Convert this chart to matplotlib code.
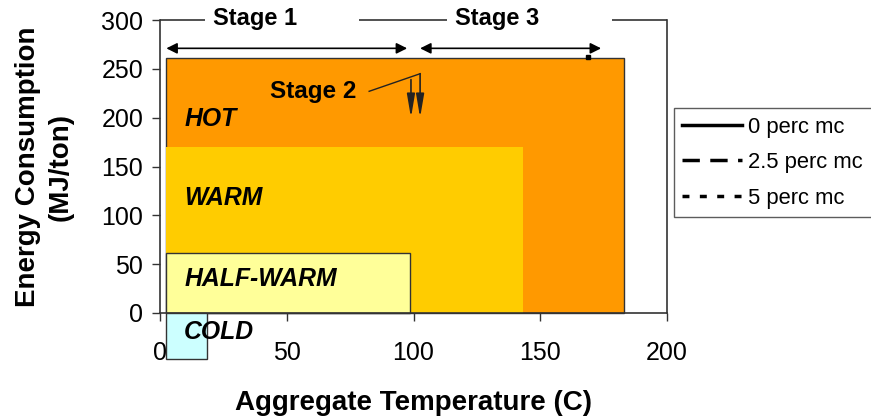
import matplotlib.pyplot as plt
from matplotlib.patches import Rectangle
from matplotlib.lines import Line2D

plt.rcParams['font.family'] = ['Liberation Sans', 'DejaVu Sans']

# temperature zones: name, x range (C), y range (MJ/ton), colour
zones = ['HOT', 'WARM', 'HALF-WARM', 'COLD']
zone_x0 = [2.5, 2.5, 2.5, 2.5]
zone_x1 = [183, 143, 98.5, 18.5]
zone_y0 = [0, 0, 0, -47]
zone_y1 = [261, 170, 61, 0]
zone_colors = ['#FF9900', '#FFCC00', '#FFFF99', '#CCFFFF']
zone_edges = ['#333333', 'none', '#333333', '#333333']
label_y = [199, 118, 35, -19]

# stage spans
stage1 = (2.5, 97.5)
stage3 = (102.6, 174)
stage_arrow_y = 271
stage2_tails = [(99, 239), (102.6, 245)]
stage2_head_y = 200

# moisture content series (only the end point is visible above the zones)
mc_labels = ['0 perc mc', '2.5 perc mc', '5 perc mc']
mc_styles = ['-', (0, (5, 3)), (0, (2, 3))]
end_point = (169, 262)

fig = plt.figure(figsize=(8.71, 4.16), dpi=100)
ax = fig.add_axes([0.1837, 0.2476, 0.5821, 0.7043])

for name, x0, x1, y0, y1, c, ec, ly in zip(zones, zone_x0, zone_x1, zone_y0,
                                           zone_y1, zone_colors, zone_edges, label_y):
    ax.add_patch(Rectangle((x0, y0), x1 - x0, y1 - y0, facecolor=c,
                           edgecolor=ec, lw=1.0, clip_on=False, zorder=2))
    ax.text(9.5, ly, name, fontsize=17.8, fontweight='bold', style='italic',
            va='center', ha='left', zorder=5, clip_on=False)

ax.plot([end_point[0]], [end_point[1]], 's', color='black', ms=3, zorder=4,
        clip_on=False)

arrow_kw = dict(arrowstyle='<|-|>', color='black', lw=1.2,
                mutation_scale=16, shrinkA=0, shrinkB=0)
for x0, x1 in [stage1, stage3]:
    ax.annotate('', xy=(x1, stage_arrow_y), xytext=(x0, stage_arrow_y),
                arrowprops=arrow_kw, annotation_clip=False)

ax.text(37.5, 302, 'Stage 1', fontsize=17, fontweight='bold', ha='center',
        va='center', clip_on=False)
ax.text(133, 302, 'Stage 3', fontsize=17, fontweight='bold', ha='center',
        va='center', clip_on=False)
ax.text(43.3, 227, 'Stage 2', fontsize=17.5, fontweight='bold', ha='left',
        va='center', zorder=5)

# stage 2 leader line and two arrows
ax.plot([82.5, stage2_tails[1][0]], [227, stage2_tails[1][1]], color='#222222',
        lw=1.0, zorder=5)
for tx, ty in stage2_tails:
    ax.annotate('', xy=(tx, stage2_head_y), xytext=(tx, ty),
                arrowprops=dict(arrowstyle='-|>,head_length=1.0,head_width=0.17',
                                color='#222222', lw=1.2, mutation_scale=14,
                                shrinkA=0, shrinkB=0),
                zorder=5)

ax.set_xlim(0, 200)
ax.set_ylim(0, 300)
ax.set_xticks(range(0, 201, 50))
ax.set_yticks(range(0, 301, 50))
ax.tick_params(axis='both', direction='out', length=6, width=1.0,
               color='#333333', labelsize=18)
ax.tick_params(axis='x', pad=14)
ax.tick_params(axis='y', pad=6)

for side in ['left', 'bottom', 'right']:
    ax.spines[side].set_color('#333333')
    ax.spines[side].set_linewidth(1.2)
ax.spines['top'].set_visible(False)
# top frame broken around the stage titles
for a, b in [(0, 0.0888), (0.3925, 0.566), (0.8915, 1.0)]:
    ax.plot([a, b], [1, 1], color='#333333', lw=1.2, transform=ax.transAxes,
            clip_on=False, solid_capstyle='butt')

ax.set_xlabel('Aggregate Temperature (C)', fontsize=20, fontweight='bold',
              labelpad=18)
ax.set_ylabel('Energy Consumption\n(MJ/ton)', fontsize=20, fontweight='bold',
              linespacing=1.36)
ax.yaxis.label.set_va('center')
ax.yaxis.set_label_coords(-0.228, 0.498)

handles = [Line2D([], [], color='black', lw=2.5, ls=s) for s in mc_styles]
leg = ax.legend(handles, mc_labels, loc='upper left',
                bbox_to_anchor=(1.013, 0.70), borderaxespad=0, fontsize=15.8,
                frameon=True, fancybox=False, handlelength=2.7,
                handletextpad=0.3, labelspacing=0.66, borderpad=0.4)
leg.get_frame().set_edgecolor('#333333')
leg.get_frame().set_linewidth(1.0)

fig.savefig('out.png', dpi=100)
